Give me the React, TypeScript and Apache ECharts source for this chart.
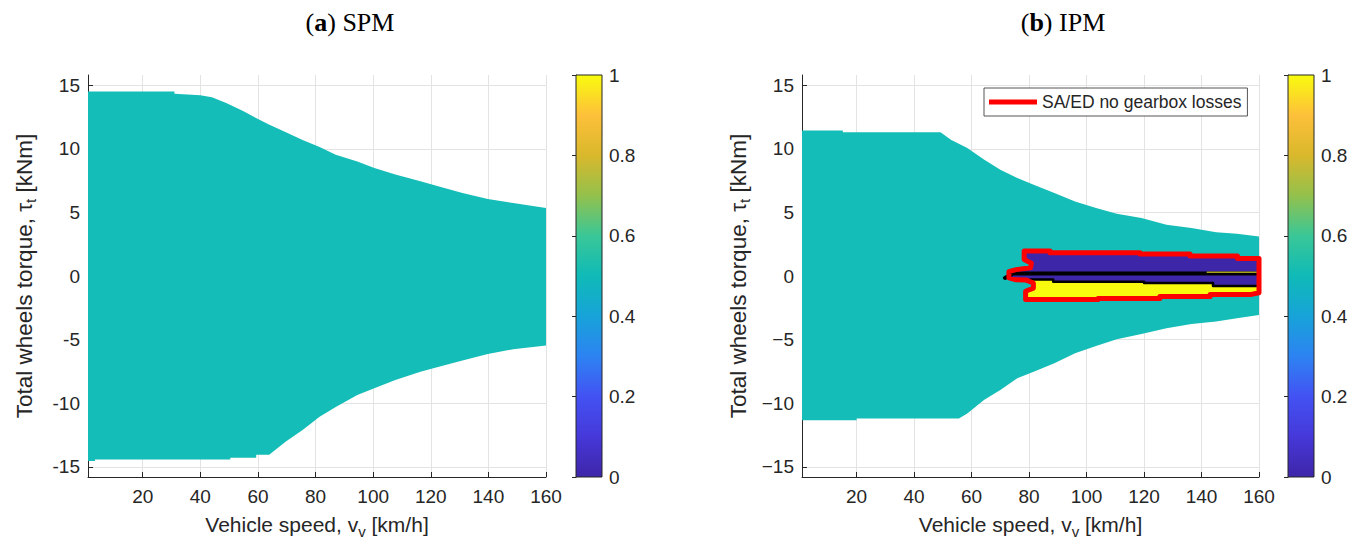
import React, { useEffect, useRef } from "react";
import * as echarts from "echarts";

// ---------- data ----------
const xTicks = [20, 40, 60, 80, 100, 120, 140, 160];
const yTicks = [-15, -10, -5, 0, 5, 10, 15];
const cbTicks = [0, 0.2, 0.4, 0.6, 0.8, 1];

// (a) SPM feasible region boundaries
const spmUpperX = [1, 31, 31, 40, 44, 49, 55, 59.5, 63.8, 69.7, 75.5, 81.4, 87, 94.5, 100.4, 107.7, 116.4, 123.8, 131, 139.8, 148.6, 160];
const spmUpperY = [14.5, 14.5, 14.33, 14.2, 14.05, 13.6, 12.95, 12.4, 11.9, 11.3, 10.7, 10.15, 9.54, 9.0, 8.49, 7.97, 7.44, 6.97, 6.52, 6.05, 5.73, 5.34];
const spmLowerX = [1, 3.4, 3.4, 50.4, 50.4, 59.4, 59.4, 63.9, 69.7, 75.5, 81.4, 87, 94.5, 100.4, 107.7, 116.4, 123.8, 131, 139.8, 148.6, 160];
const spmLowerY = [-14.55, -14.55, -14.42, -14.42, -14.29, -14.29, -14.05, -14.05, -13.0, -12.1, -11.06, -10.3, -9.36, -8.83, -8.18, -7.52, -7.07, -6.65, -6.13, -5.76, -5.47];

// (b) IPM feasible region boundaries
const ipmUpperX = [1, 15.2, 15.2, 49.2, 52.8, 58.5, 64.3, 70, 75.9, 81.6, 88.8, 96, 103.3, 110.5, 119.1, 127.8, 136.5, 145.1, 152.3, 160];
const ipmUpperY = [11.43, 11.43, 11.3, 11.3, 10.72, 10.07, 9.15, 8.36, 7.7, 7.18, 6.52, 5.86, 5.34, 4.9, 4.55, 4.03, 3.77, 3.43, 3.32, 3.11];
const ipmLowerX = [1, 20, 20, 55.6, 58.5, 64.3, 70, 75.9, 81.6, 88.8, 96, 103.3, 110.5, 119.1, 127.8, 136.5, 145.1, 152.3, 160];
const ipmLowerY = [-11.33, -11.33, -11.2, -11.2, -10.8, -9.75, -8.96, -8.04, -7.52, -6.86, -6.08, -5.5, -4.98, -4.55, -4.1, -3.77, -3.58, -3.32, -3.06];

// SA/ED region outline (red contour)
const outlineX = [78.3, 87.3, 87.3, 118.6, 118.6, 136, 136, 152.5, 152.5, 160, 160, 157, 143, 143, 125.5, 125.5, 104, 104, 78.8, 78.8, 81.5, 81.5, 79, 75.5, 73, 73, 75.5, 80.5, 80.8, 78.3, 78.3];
const outlineY = [1.97, 1.97, 1.82, 1.82, 1.72, 1.72, 1.58, 1.58, 1.38, 1.38, -1.32, -1.46, -1.46, -1.62, -1.62, -1.76, -1.76, -1.85, -1.85, -1.2, -0.95, -0.55, -0.32, -0.3, -0.15, 0.35, 0.5, 0.65, 1.0, 1.3, 1.97];

// value = 1 area (yellow) inside the outline
const yellowX = [80.5, 88.4, 88.4, 120, 120, 144, 144, 160, 160, 157, 143, 143, 125.5, 125.5, 104, 104, 78.8, 78.8, 81.5, 81.5];
const yellowY = [-0.28, -0.28, -0.45, -0.45, -0.55, -0.55, -0.78, -0.78, -1.32, -1.46, -1.46, -1.62, -1.62, -1.76, -1.76, -1.85, -1.85, -1.2, -0.95, -0.55];

// black contour lines
const black1X = [71.6, 74.5, 160];
const black1Y = [-0.15, 0.2, 0.2];
const black2X = [80.5, 88.4, 88.4, 120, 120, 144, 144, 160];
const black2Y = [-0.28, -0.28, -0.45, -0.45, -0.55, -0.55, -0.78, -0.78];
const oliveX = [142, 160];
const oliveY = [0.3, 0.3];

const cbRange = [0, 1];
const parulaStops = [
  [0, "#3e26a8"], [0.1, "#4638d9"], [0.2, "#4352f3"], [0.3, "#2d83f2"],
  [0.4, "#17a3d9"], [0.5, "#0fbab7"], [0.6, "#3ac797"], [0.7, "#93c14c"],
  [0.8, "#d9b82c"], [0.9, "#fdc03a"], [1, "#f9fb0e"],
];

const legendName = "SA/ED no gearbox losses";

// ---------- styling ----------
const FONT = "'Liberation Sans', Arial, sans-serif";
const SERIF = "'Liberation Serif', 'Times New Roman', serif";
const AX = "#262626";
const GRID = "#e3e3e3";
const TEAL = "#14bdb7";

const zip = (xs: number[], ys: number[]) => xs.map((x, i) => [x, ys[i]]);

function polySeries(ax: number, xs: number[], ys: number[], fill: string, z: number) {
  return {
    type: "custom",
    xAxisIndex: ax,
    yAxisIndex: ax,
    silent: true,
    z,
    data: zip(xs, ys),
    encode: { x: 0, y: 1 },
    renderItem: (params: any, api: any) => {
      if (params.dataIndex !== 0) return null;
      const pts = xs.map((x, i) => api.coord([x, ys[i]]));
      return { type: "polygon", shape: { points: pts }, style: { fill } };
    },
  };
}

function lineSeries(ax: number, xs: number[], ys: number[], color: string, width: number, z: number, name?: string) {
  return {
    type: "line",
    name,
    xAxisIndex: ax,
    yAxisIndex: ax,
    data: zip(xs, ys),
    symbol: "none",
    showSymbol: false,
    clip: false,
    silent: true,
    color,
    itemStyle: { color },
    lineStyle: { color, width, join: "round", cap: "round" },
    emphasis: { disabled: true },
    z,
  };
}

function colorbarSeries(ax: number) {
  return {
    type: "custom",
    xAxisIndex: ax,
    yAxisIndex: ax,
    silent: true,
    data: [[cbRange[0], cbRange[0]], [cbRange[1], cbRange[1]]],
    encode: { x: 0, y: 1 },
    renderItem: (params: any, api: any) => {
      if (params.dataIndex !== 0) return null;
      const p0 = api.coord([cbRange[0], cbRange[0]]);
      const p1 = api.coord([cbRange[1], cbRange[1]]);
      return {
        type: "rect",
        shape: { x: p0[0], y: p1[1], width: p1[0] - p0[0], height: p0[1] - p1[1] },
        style: {
          fill: new echarts.graphic.LinearGradient(0, 1, 0, 0,
            parulaStops.map(([o, c]) => ({ offset: o as number, color: c as string }))),
          stroke: AX,
          lineWidth: 1,
        },
      };
    },
  };
}

function nameStyle(size: number) {
  return {
    fontSize: size,
    fontFamily: FONT,
    color: AX,
    lineHeight: 28,
    rich: {
      tau: { fontSize: size, fontFamily: FONT, color: AX },
      sub: { fontSize: 15, fontFamily: FONT, color: AX, verticalAlign: "bottom" },
    },
  };
}

function mainX(gi: number) {
  return {
    type: "value",
    gridIndex: gi,
    min: 1,
    max: 160,
    axisLine: { show: true, onZero: false, lineStyle: { color: AX, width: 1 } },
    axisTick: { show: true, inside: true, length: 5, customValues: xTicks, lineStyle: { color: AX } },
    axisLabel: { show: true, customValues: xTicks, color: AX, fontSize: 19, fontFamily: FONT, margin: 10 },
    splitLine: { show: true, lineStyle: { color: GRID, width: 1 } },
    name: "Vehicle speed, v{sub|v} [km/h]",
    nameLocation: "middle",
    nameGap: 33,
    nameTextStyle: nameStyle(21),
  };
}

function mainY(gi: number, unicodeMinus: boolean) {
  return {
    type: "value",
    gridIndex: gi,
    min: -15.8,
    max: 15.8,
    axisLine: { show: true, onZero: false, lineStyle: { color: AX, width: 1 } },
    axisTick: { show: true, inside: true, length: 5, customValues: yTicks, lineStyle: { color: AX } },
    axisLabel: {
      show: true,
      customValues: yTicks,
      color: AX,
      fontSize: 19,
      fontFamily: FONT,
      margin: 8,
      formatter: (v: number) => (v < 0 ? (unicodeMinus ? "\u2212" : "-") + Math.abs(v) : String(v)),
    },
    splitLine: { show: true, lineStyle: { color: GRID, width: 1 } },
    name: "Total wheels torque, {tau|\u03c4}{sub|t} [kNm]",
    nameLocation: "middle",
    nameGap: 50,
    nameRotate: 90,
    nameTextStyle: nameStyle(22.5),
  };
}

function cbX(gi: number) {
  return { type: "value", gridIndex: gi, min: cbRange[0], max: cbRange[1], show: false };
}

function cbY(gi: number) {
  return {
    type: "value",
    gridIndex: gi,
    position: "right",
    min: cbRange[0],
    max: cbRange[1],
    axisLine: { show: true, lineStyle: { color: AX, width: 1 } },
    axisTick: { show: true, inside: true, length: 4, customValues: cbTicks, lineStyle: { color: AX } },
    axisLabel: {
      show: true,
      customValues: cbTicks,
      color: AX,
      fontSize: 19,
      fontFamily: FONT,
      margin: 7,
      formatter: (v: number) => (v === 0 ? "0" : v === 1 ? "1" : v.toFixed(1)),
    },
    splitLine: { show: false },
  };
}

function titleText(x: number, letter: string, rest: string) {
  return {
    type: "text",
    x,
    y: 22,
    silent: true,
    style: {
      text: `{p|(}{b|${letter}}{p|) ${rest}}`,
      align: "center",
      verticalAlign: "middle",
      rich: {
        p: { fontFamily: SERIF, fontSize: 26, fill: "#000" },
        b: { fontFamily: SERIF, fontSize: 26, fontWeight: "bold", fill: "#000" },
      },
    },
  };
}

export default function App() {
  const ref = useRef<HTMLDivElement>(null);
  useEffect(() => {
    if (!ref.current) return;
    const chart = echarts.init(ref.current, null, { renderer: "svg" });
    const option: any = {
      animation: false,
      backgroundColor: "#ffffff",
      grid: [
        { left: 88, top: 75, width: 458, height: 402 },
        { left: 802, top: 75, width: 457, height: 402 },
        { left: 576, top: 75, width: 26, height: 402 },
        { left: 1288, top: 75, width: 26, height: 402 },
      ],
      xAxis: [mainX(0), mainX(1), cbX(2), cbX(3)],
      yAxis: [mainY(0, false), mainY(1, true), cbY(2), cbY(3)],
      legend: {
        data: [{ name: legendName, icon: "rect" }],
        left: 984,
        top: 88,
        itemWidth: 48,
        itemHeight: 5,
        padding: [5, 6, 5, 5],
        backgroundColor: "#ffffff",
        borderColor: "#555555",
        borderWidth: 1,
        selectedMode: false,
        textStyle: { fontSize: 17.5, fontFamily: FONT, color: AX },
      },
      graphic: [titleText(350, "a", "SPM"), titleText(1063, "b", "IPM")],
      series: [
        polySeries(0, spmUpperX.concat(spmLowerX.slice().reverse()), spmUpperY.concat(spmLowerY.slice().reverse()), TEAL, 1),
        polySeries(1, ipmUpperX.concat(ipmLowerX.slice().reverse()), ipmUpperY.concat(ipmLowerY.slice().reverse()), TEAL, 1),
        polySeries(1, outlineX, outlineY, "#3e26a8", 2),
        polySeries(1, yellowX, yellowY, "#f9fb0e", 3),
        lineSeries(1, black1X, black1Y, "#000000", 4, 4),
        lineSeries(1, black2X, black2Y, "#000000", 2.5, 4),
        lineSeries(1, oliveX, oliveY, "#a8a41c", 1.5, 5),
        lineSeries(1, outlineX, outlineY, "#ff0000", 5, 6, legendName),
        colorbarSeries(2),
        colorbarSeries(3),
      ],
    };
    chart.setOption(option);
    return () => chart.dispose();
  }, []);
  return (
    <div
      ref={ref}
      style={{ position: "fixed", left: 0, top: 0, width: 1353, height: 556, background: "#fff" }}
    />
  );
}
